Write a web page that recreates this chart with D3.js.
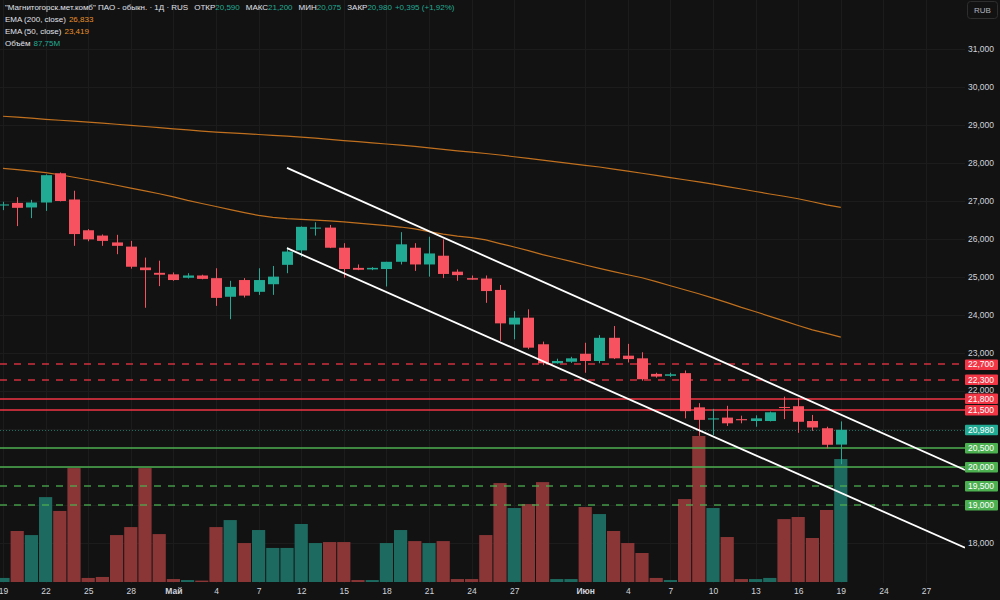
<!DOCTYPE html>
<html>
<head>
<meta charset="utf-8">
<script src="https://cdn.jsdelivr.net/npm/d3@7"></script>
<style>
  body { margin: 0; background: #121212; }
  svg { display: block; font-family: 'Liberation Sans', Arial, sans-serif; }
</style>
</head>
<body>
<svg id="chart"></svg>
<script>
// daily bars, MM-DD
const dates = [
  '04-19','04-20','04-21','04-22','04-23','04-24','04-25','04-26','04-27','04-28','04-29','04-30',
  '05-01','05-02','05-03','05-04','05-05','05-06','05-07','05-08','05-11','05-12','05-13','05-14',
  '05-15','05-16','05-17','05-18','05-19','05-20','05-21','05-22','05-23','05-24','05-25','05-26',
  '05-27','05-28','05-29','05-30','05-31','06-01','06-02','06-03','06-04','06-05','06-06','06-07',
  '06-08','06-09','06-10','06-11','06-12','06-13','06-14','06-15','06-16','06-17','06-18','06-19'
];
const futureDates = ['06-20','06-23','06-24','06-25','06-26','06-27'];

const open = [
  26880,26950,26830,26960,27730,27040,26230,26090,25910,25800,25250,25110,
  25070,24980,25040,24970,24480,24920,24610,24810,25320,25700,26280,26300,
  25770,25240,25200,25210,25400,25770,25330,25560,25140,24970,24960,24660,
  23750,23930,23230,22730,22770,22980,22790,23400,22930,22860,22450,22400,
  22470,21570,21250,21300,21260,21210,21210,21580,21600,21210,21020,20590
];
const high = [
  26980,27100,27030,27700,27750,27270,26260,26120,26110,25950,25510,25430,
  25120,25100,25060,25230,24900,24970,25230,25290,25780,26330,26440,26370,
  25890,25330,25260,25400,26180,25890,26060,25990,25200,25040,25040,24790,
  24100,24150,23300,22850,22900,23270,23470,23710,23240,23020,22480,22480,
  22540,21680,21530,21610,21350,21360,21460,21850,21810,21370,21060,21200
];
const low = [
  26760,26340,26550,26740,26990,25820,25940,25820,25600,25220,24190,24760,
  24900,24960,24940,24240,23890,24460,24530,24530,25100,25530,26090,25760,
  24980,25180,25180,24750,25330,25160,25010,24970,24900,24930,24320,23320,
  23360,23100,22680,22720,22740,22480,22730,22840,22750,22270,22350,22370,
  21280,20820,20840,21080,21150,21060,21200,21260,20900,20950,20490,20075
];
const close = [
  26910,26820,26960,27680,27000,26130,25990,25950,25820,25270,25180,25060,
  24920,25040,24950,24450,24740,24510,24920,25010,25670,26320,26300,25770,
  25210,25190,25240,25400,25860,25330,25620,25080,25050,24930,24630,23780,
  23930,23140,22730,22790,22860,22790,23400,22860,22840,22310,22380,22440,
  21470,21240,21280,21150,21230,21280,21440,21560,21190,21040,20585,20980
];
// millions of shares
const volume = [
  2.9,36.4,33.5,60.6,50.7,81.3,2.9,3.6,33.5,39.2,81.3,34.2,
  2.1,1.4,1.0,39.2,44.2,27.8,37.1,24.3,24.3,41.4,27.8,28.5,
  28.5,1.4,1.4,27.8,37.1,29.2,27.8,29.2,2.1,2.1,33.5,70.6,
  52.8,55.6,71.3,2.1,2.1,53.5,48.5,36.4,27.8,20.7,2.9,1.4,
  59.2,104.2,52.8,32.1,2.1,2.1,2.9,44.9,46.4,31.4,51.4,87.75
];
const ema200 = [
  29230,29205,29180,29150,29125,29100,29075,29050,29020,28990,28960,28930,
  28900,28870,28840,28815,28795,28775,28750,28725,28705,28680,28655,28620,
  28590,28565,28530,28500,28470,28435,28400,28360,28320,28285,28250,28210,
  28165,28120,28075,28030,27985,27940,27895,27840,27785,27730,27675,27615,
  27560,27505,27445,27380,27315,27250,27185,27125,27060,26980,26900,26833
];
const ema50 = [
  27860,27825,27785,27745,27690,27625,27560,27490,27415,27340,27265,27190,
  27110,27015,26935,26855,26775,26695,26620,26570,26535,26515,26495,26475,
  26450,26420,26385,26350,26315,26265,26195,26130,26075,26035,25975,25880,
  25790,25695,25590,25500,25410,25315,25225,25140,25060,24980,24880,24770,
  24665,24560,24445,24325,24200,24085,23965,23845,23725,23610,23515,23419
];

const priceTicks = [18000,19000,20000,21000,22000,23000,24000,25000,26000,27000,28000,29000,30000,31000];
const tickDates = ['04-19','04-22','04-25','04-28','05-01','05-04','05-07','05-12','05-15','05-18','05-21',
  '05-24','05-27','06-01','06-04','06-07','06-10','06-13','06-16','06-19','06-24','06-27'];
const tickLabels = ['19','22','25','28','Май','4','7','12','15','18','21','24','27','Июн','4','7','10','13','16','19','24','27'];
const monthLabels = ['Май', 'Июн'];

const levelPrices = [22700, 22300, 21800, 21500, 20500, 20000, 19500, 19000];
const levelColors = ['red', 'red', 'red', 'red', 'green', 'green', 'green', 'green'];
const levelDashed = [true, true, false, false, false, false, true, true];

// channel: two anchor points each, extended to the price scale
const channelUpper = [['05-11', 27870], ['06-19', 21380]];
const channelLower = [['05-11', 25760], ['06-19', 19320]];

const lastPrice = 20980;

const W = 1000, H = 600;
const plotRight = 965;
const upColor = '#22ab94', downColor = '#f7525f';
const tagColor = {red: '#f23645', green: '#4caf50'};

const svg = d3.select('#chart')
.attr('width', W)
.attr('height', H);

svg.append('rect')
.attr('width', W)
.attr('height', H)
.attr('fill', '#121212');

const allDates = dates.concat(futureDates);
const x = d3.scalePoint()
.domain(allDates)
.range([3, 3 + 14.2 * (allDates.length - 1)]);

const y = d3.scaleLinear()
.domain([17000, 31000])
.range([581, 49]);

const yVol = d3.scaleLinear()
.domain([0, d3.max(volume)])
.range([582, 436]);

svg.append('clipPath')
.attr('id', 'plot')
.append('rect')
.attr('width', plotRight)
.attr('height', 583);

const plot = svg.append('g').attr('clip-path', 'url(#plot)');

// grid
plot.selectAll('.hgrid')
.data(priceTicks)
.enter()
.append('line')
.attr('x1', 0)
.attr('x2', plotRight)
.attr('y1', d => Math.round(y(d)) + 0.5)
.attr('y2', d => Math.round(y(d)) + 0.5)
.attr('stroke', '#1c1c1c');

plot.selectAll('.vgrid')
.data(tickDates)
.enter()
.append('line')
.attr('x1', d => Math.round(x(d)) + 0.5)
.attr('x2', d => Math.round(x(d)) + 0.5)
.attr('y1', 0)
.attr('y2', 583)
.attr('stroke', '#1c1c1c');

// volume
plot.selectAll('.vol')
.data(dates)
.enter()
.append('rect')
.attr('x', d => x(d) - 6.6)
.attr('width', 13.2)
.attr('y', (d, i) => yVol(volume[i]))
.attr('height', (d, i) => yVol(0) - yVol(volume[i]))
.attr('fill', (d, i) => close[i] >= open[i] ? '#1d6a60' : '#8a3637');

// EMA lines
const emaLine = d3.line()
.x((d, i) => x(dates[i]))
.y(d => y(d));

[ema200, ema50].forEach(series => {
  plot.append('path')
  .datum(series)
  .attr('fill', 'none')
  .attr('stroke', '#c0701e')
  .attr('stroke-width', 1.2)
  .attr('d', emaLine);
});

// levels
levelPrices.forEach((p, i) => {
  plot.append('line')
  .attr('x1', 0)
  .attr('x2', plotRight)
  .attr('y1', Math.round(y(p)))
  .attr('y2', Math.round(y(p)))
  .attr('stroke', tagColor[levelColors[i]])
  .attr('stroke-opacity', levelDashed[i] ? 0.85 : 1)
  .attr('stroke-width', 1.6)
  .attr('stroke-dasharray', levelDashed[i] ? '7,7' : null);
});

plot.append('line')
.attr('x1', 0)
.attr('x2', plotRight)
.attr('y1', Math.round(y(lastPrice)) + 0.5)
.attr('y2', Math.round(y(lastPrice)) + 0.5)
.attr('stroke', '#22ab94')
.attr('stroke-opacity', 0.6)
.attr('stroke-dasharray', '1,2');

// candles
plot.selectAll('.wick')
.data(dates)
.enter()
.append('line')
.attr('x1', d => Math.round(x(d)) + 0.5)
.attr('x2', d => Math.round(x(d)) + 0.5)
.attr('y1', (d, i) => y(high[i]))
.attr('y2', (d, i) => y(low[i]))
.attr('stroke', (d, i) => close[i] >= open[i] ? upColor : downColor);

plot.selectAll('.body')
.data(dates)
.enter()
.append('rect')
.attr('x', d => Math.round(x(d)) - 5)
.attr('width', 11)
.attr('y', (d, i) => y(Math.max(open[i], close[i])))
.attr('height', (d, i) => Math.max(1, Math.abs(y(open[i]) - y(close[i]))))
.attr('fill', (d, i) => close[i] >= open[i] ? upColor : downColor);

// channel lines
[channelUpper, channelLower].forEach(pts => {
  const x1 = x(pts[0][0]), y1 = y(pts[0][1]);
  const x2 = x(pts[1][0]), y2 = y(pts[1][1]);
  const slope = (y2 - y1) / (x2 - x1);
  plot.append('line')
  .attr('x1', x1)
  .attr('y1', y1)
  .attr('x2', plotRight)
  .attr('y2', y1 + slope * (plotRight - x1))
  .attr('stroke', '#ffffff')
  .attr('stroke-width', 1.8);
});

// price axis
const yAxis = svg.append('g')
.attr('transform', 'translate(994, 0)')
.call(d3.axisRight(y).tickValues(priceTicks).tickFormat(d3.format(',')).tickSize(0));

yAxis.select('.domain').remove();
yAxis.selectAll('text')
.attr('x', 0)
.attr('dy', (d) => d === 22000 ? '0.2em' : '0.32em')
.attr('text-anchor', 'end')
.attr('fill', '#d1d4dc')
.style('font-size', '8.5px');

// tags
const tags = levelPrices.map((p, i) => ({p: p, c: tagColor[levelColors[i]]}));
tags.push({p: lastPrice, c: '#22ab94'});

tags.forEach(t => {
  svg.append('rect')
  .attr('x', 965)
  .attr('y', y(t.p) - 5)
  .attr('width', 33)
  .attr('height', 10.5)
  .attr('rx', 1)
  .attr('fill', t.c);

  svg.append('text')
  .attr('x', 994)
  .attr('y', y(t.p))
  .attr('dy', '0.35em')
  .attr('text-anchor', 'end')
  .attr('fill', '#ffffff')
  .style('font-size', '8.5px')
  .text(d3.format(',')(t.p));
});

// time axis
const xAxis = svg.append('g')
.attr('transform', 'translate(0, 583)')
.call(d3.axisBottom(x).tickValues(tickDates).tickFormat((d, i) => tickLabels[i]).tickSize(0).tickPadding(5));

xAxis.select('.domain').remove();
xAxis.selectAll('text')
.attr('fill', '#d1d4dc')
.style('font-size', '8.5px')
.style('font-weight', (d, i) => monthLabels.includes(tickLabels[i]) ? 'bold' : 'normal');

// RUB button
svg.append('rect')
.attr('x', 967.5)
.attr('y', 1.5)
.attr('width', 30)
.attr('height', 17)
.attr('rx', 3)
.attr('fill', '#121212')
.attr('stroke', '#2e2e2e');

svg.append('text')
.attr('x', 982.5)
.attr('y', 13)
.attr('text-anchor', 'middle')
.attr('fill', '#b2b5be')
.style('font-size', '8px')
.text('RUB');

// legend
const legend = svg.append('g').style('font-size', '8px');

const line1 = legend.append('text').attr('x', 5).attr('y', 10).attr('fill', '#e0e3eb');
line1.append('tspan').text('"Магнитогорск.мет.комб" ПАО - обыкн. · 1Д · RUS');
[['ОТКР', '20,590'], ['МАКС', '21,200'], ['МИН', '20,075'], ['ЗАКР', '20,980']].forEach(pair => {
  line1.append('tspan').attr('dx', 6).text(pair[0]);
  line1.append('tspan').attr('fill', upColor).text(pair[1]);
});
line1.append('tspan').attr('dx', 3).attr('fill', upColor).text('+0,395 (+1,92%)');

const line2 = legend.append('text').attr('x', 5).attr('y', 22).attr('fill', '#e0e3eb');
line2.append('tspan').text('EMA (200, close)');
line2.append('tspan').attr('dx', 3).attr('fill', '#e8902a').text('26,833');

const line3 = legend.append('text').attr('x', 5).attr('y', 34).attr('fill', '#e0e3eb');
line3.append('tspan').text('EMA (50, close)');
line3.append('tspan').attr('dx', 3).attr('fill', '#e8902a').text('23,419');

const line4 = legend.append('text').attr('x', 5).attr('y', 46).attr('fill', '#e0e3eb');
line4.append('tspan').text('Объём');
line4.append('tspan').attr('dx', 3).attr('fill', upColor).text('87,75M');
</script>
</body>
</html>
